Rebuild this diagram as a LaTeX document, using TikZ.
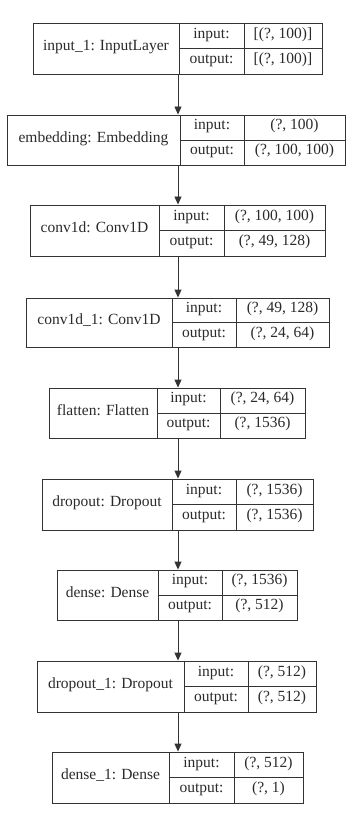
\documentclass[tikz,border=0pt]{standalone}
\usepackage{fontspec}
\setmainfont{Liberation Serif}
\usetikzlibrary{fit,arrows.meta}
\definecolor{kline}{HTML}{333333}
\definecolor{ktxt}{HTML}{2A2A2A}
\tikzset{
  kframe/.style={draw=kline, line width=0.9pt, inner sep=0pt},
  kdiv/.style={draw=kline, line width=0.9pt},
  ktext/.style={text=ktxt, font=\fontsize{15.5}{18}\selectfont, inner sep=0pt, text height=0.68em, text depth=0.2em},
  karrow/.style={draw=kline, line width=0.9pt, -{Triangle[length=8pt,width=7pt]}}
}
% #1 name, #2 left, #3 div1, #4 div2, #5 right, #6 top, #7 bottom, #8 label
\newcommand\kbox[8]{%
  \coordinate (#1-nw) at (#2,-#6);
  \coordinate (#1-se) at (#5,-#7);
  \node[kframe, fit=(#1-nw)(#1-se)] (#1) {};
  \draw[kdiv] (#3,-#6) -- (#3,-#7);
  \draw[kdiv] (#4,-#6) -- (#4,-#7);
  \draw[kdiv] (#3,{-(#6+#7)/2}) -- (#5,{-(#6+#7)/2});
  \node[ktext] (#1-lab) at ({(#2+#3)/2},{-(#6+#7)/2}) {#8};
  \coordinate (#1-c1) at ({(#3+#4)/2},{-(3*#6+#7)/4});
  \coordinate (#1-c2) at ({(#4+#5)/2},{-(3*#6+#7)/4});
  \coordinate (#1-c3) at ({(#3+#4)/2},{-(#6+3*#7)/4});
  \coordinate (#1-c4) at ({(#4+#5)/2},{-(#6+3*#7)/4});
}
\newcommand\kio[3]{%
  \node[ktext] (#1-inl) at (#1-c1) {input:};
  \node[ktext] (#1-inv) at (#1-c2) {#2};
  \node[ktext] (#1-outl) at (#1-c3) {output:};
  \node[ktext] (#1-outv) at (#1-c4) {#3};
}
\begin{document}
\begin{tikzpicture}[x=1pt,y=1pt]
\useasboundingbox[fill=white] (0,0) rectangle (362,-826);
\coordinate (ax) at (178,0);
\kbox{b1}{33}{179}{244}{322}{23}{74}{input\_1: InputLayer}
\kio{b1}{[(?, 100)]}{[(?, 100)]}
\kbox{b2}{7}{180}{244}{345}{115}{165}{embedding: Embedding}
\kio{b2}{(?, 100)}{(?, 100, 100)}
\kbox{b3}{30}{159}{224}{325}{205}{256}{conv1d: Conv1D}
\kio{b3}{(?, 100, 100)}{(?, 49, 128)}
\kbox{b4}{26}{172}{236}{329}{298}{347}{conv1d\_1: Conv1D}
\kio{b4}{(?, 49, 128)}{(?, 24, 64)}
\kbox{b5}{49}{157}{220}{305}{388}{438}{flatten: Flatten}
\kio{b5}{(?, 24, 64)}{(?, 1536)}
\kbox{b6}{42}{172}{236}{313}{479}{530}{dropout: Dropout}
\kio{b6}{(?, 1536)}{(?, 1536)}
\kbox{b7}{57}{158}{222}{297}{570}{620}{dense: Dense}
\kio{b7}{(?, 1536)}{(?, 512)}
\kbox{b8}{37}{184}{248}{316}{661}{712}{dropout\_1: Dropout}
\kio{b8}{(?, 512)}{(?, 512)}
\kbox{b9}{52}{169}{234}{303}{752}{803}{dense\_1: Dense}
\kio{b9}{(?, 512)}{(?, 1)}
\foreach \a/\b in {b1/b2,b2/b3,b3/b4,b4/b5,b5/b6,b6/b7,b7/b8,b8/b9}{
  \draw[karrow] (\a.south -| ax) -- (\b.north -| ax);
}
\end{tikzpicture}
\end{document}
